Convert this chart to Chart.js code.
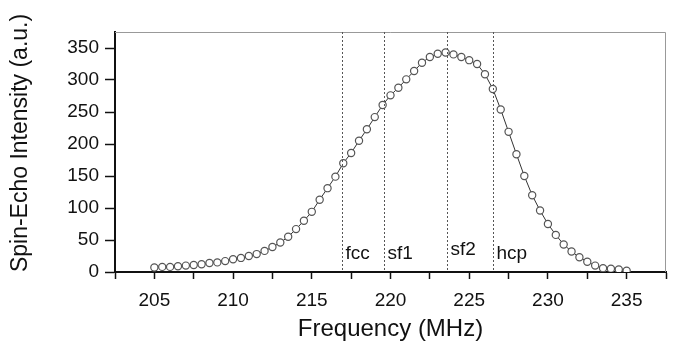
<!DOCTYPE html>
<html>
<head>
<meta charset="utf-8">
<script src="https://cdn.jsdelivr.net/npm/chart.js@4/dist/chart.umd.min.js"></script>
<style>
  html, body { margin: 0; padding: 0; background: #fff; }
  #wrap { width: 676px; height: 352px; }
</style>
</head>
<body>
<div id="wrap"><canvas id="echoChart"></canvas></div>
<script>
// frequency grid (MHz) and spin-echo intensity
var freqs = [];
for (var f = 205; f <= 235; f += 0.5) freqs.push(f);
var intensity = [
  7, 8, 8, 9, 10, 11, 12, 14, 15, 17,
  20, 22, 25, 28, 33, 39, 46, 55, 67, 80,
  94, 113, 131, 149, 170, 186, 205, 223, 242, 261,
  276, 288, 301, 314, 327, 336, 341, 343, 340, 336,
  331, 325, 309, 286, 254, 219, 184, 150, 120, 96,
  75, 58, 43, 32, 23, 16, 10, 6, 5, 4,
  2
];
var markerFreqs = [216.9, 219.6, 223.6, 226.5];
var markerLabels = ['fcc', 'sf1', 'sf2', 'hcp'];
var xTicks = [205, 210, 215, 220, 225, 230, 235];
var yTicks = [0, 50, 100, 150, 200, 250, 300, 350];

var points = freqs.map(function (x, i) { return { x: x, y: intensity[i] }; });
var FONT = '"Liberation Sans", Arial, sans-serif';

// dotted marker lines + labels, grey top/right frame, y title
var extras = {
  id: 'extras',
  afterDatasetsDraw: function (chart) {
    var c = chart.ctx, a = chart.chartArea, xs = chart.scales.x;
    c.save();
    c.strokeStyle = '#999';
    c.lineWidth = 1;
    c.beginPath();
    c.moveTo(a.left, a.top + 0.5);
    c.lineTo(a.right - 0.5, a.top + 0.5);
    c.lineTo(a.right - 0.5, a.bottom);
    c.stroke();

    c.strokeStyle = '#555';
    c.setLineDash([2, 2]);
    c.font = '19px ' + FONT;
    c.fillStyle = '#111';
    c.textBaseline = 'middle';
    markerFreqs.forEach(function (m, i) {
      var px = Math.round(xs.getPixelForValue(m)) + 0.5;
      c.beginPath();
      c.moveTo(px, a.top);
      c.lineTo(px, a.bottom);
      c.stroke();
      c.fillText(markerLabels[i], px + 3, i === 2 ? a.bottom - 22 : a.bottom - 18);
    });

    // y axis title, sits a little above the plot's centre like the original
    c.translate(21, 143);
    c.rotate(-Math.PI / 2);
    c.textAlign = 'center';
    c.font = '23px ' + FONT;
    c.fillText('Spin-Echo Intensity (a.u.)', 0, 0);
    c.restore();
  }
};

var ctx = document.getElementById('echoChart').getContext('2d');
var myChart = new Chart(ctx, {
  type: 'scatter',
  data: {
    datasets: [{
      data: points,
      showLine: true,
      borderColor: '#333',
      borderWidth: 1,
      pointRadius: 3.6,
      pointBorderWidth: 1.2,
      pointBorderColor: '#555',
      pointBackgroundColor: '#fff'
    }]
  },
  options: {
    responsive: true,
    maintainAspectRatio: false,
    animation: false,
    layout: { padding: { left: 2, right: 8, top: 32, bottom: 4 } },
    plugins: { legend: { display: false }, tooltip: { enabled: false } },
    scales: {
      x: {
        type: 'linear',
        min: 202.5,
        max: 237.5,
        afterBuildTicks: function (s) {
          s.ticks = [];
          for (var v = 202.5; v <= 237.5; v += 2.5) s.ticks.push({ value: v });
        },
        afterFit: function (s) { s.height = 76; },
        ticks: {
          autoSkip: false,
          maxRotation: 0,
          color: '#111',
          padding: 10,
          font: { family: FONT, size: 19 },
          callback: function (v) { return xTicks.indexOf(v) >= 0 ? String(v) : ''; }
        },
        grid: { drawOnChartArea: false, tickLength: 7, color: '#111', tickWidth: 1.5 },
        border: { color: '#111', width: 2 },
        title: {
          display: true,
          text: 'Frequency (MHz)',
          color: '#111',
          padding: { top: 4 },
          font: { family: FONT, size: 24 }
        }
      },
      y: {
        min: 0,
        max: 375,
        afterBuildTicks: function (s) {
          s.ticks = yTicks.map(function (v) { return { value: v }; });
        },
        afterFit: function (s) { s.width = 113; },
        ticks: {
          color: '#111',
          padding: 6,
          font: { family: FONT, size: 19 }
        },
        grid: { drawOnChartArea: false, tickLength: 10, color: '#111', tickWidth: 1.5 },
        border: { color: '#111', width: 2 }
      }
    }
  },
  plugins: [extras]
});
</script>
</body>
</html>
